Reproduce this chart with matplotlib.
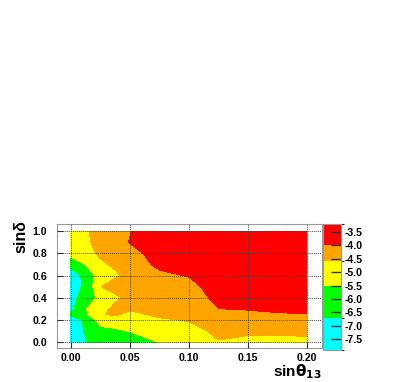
import matplotlib
matplotlib.use("Agg")
import matplotlib.pyplot as plt
from matplotlib.colors import ListedColormap, BoundaryNorm

plt.rcParams['font.family'] = ['Liberation Sans', 'DejaVu Sans']
plt.rcParams['font.weight'] = 'bold'

# grid of sin(theta13) and sin(delta) values
sin_theta13 = [0.0, 0.0125, 0.025, 0.0375, 0.05, 0.075, 0.1, 0.125, 0.15, 0.175, 0.2]
sin_delta = [0.0, 0.1, 0.2, 0.25, 0.3, 0.4, 0.5, 0.6, 0.7, 0.8, 0.9, 1.0]

# log10 values, one row per sin_delta value
z_rows = [
    [-7.5, -6.8, -5.9, -6.0, -6.4, -5.45, -5.1, -4.64, -4.75, -4.75, -4.72],   # 0.0
    [-7.3, -6.6, -5.85, -5.7, -5.45, -5.1, -4.85, -4.45, -4.5, -4.5, -4.5],    # 0.1
    [-7.2, -6.55, -5.0, -4.9, -5.0, -4.7, -4.55, -4.3, -4.25, -4.2, -4.2],     # 0.2
    [-6.5, -5.6, -4.65, -4.5, -4.8, -4.45, -4.45, -4.2, -4.15, -4.05, -4.02],  # 0.25
    [-7.0, -5.55, -4.9, -4.4, -4.5, -4.35, -4.4, -4.01, -3.96, -3.9, -3.85],   # 0.3
    [-7.4, -5.8, -5.35, -4.75, -4.4, -4.3, -4.3, -3.85, -3.7, -3.6, -3.55],    # 0.4
    [-7.6, -6.3, -4.62, -4.3, -4.2, -4.2, -4.2, -3.7, -3.55, -3.45, -3.4],     # 0.5
    [-7.75, -6.2, -5.0, -4.7, -4.4, -4.1, -3.97, -3.55, -3.45, -3.35, -3.3],   # 0.6
    [-6.0, -5.48, -4.7, -4.5, -4.25, -3.9, -3.7, -3.45, -3.4, -3.3, -3.3],     # 0.7
    [-5.2, -4.8, -4.5, -4.3, -4.12, -3.85, -3.55, -3.4, -3.35, -3.3, -3.25],   # 0.8
    [-5.0, -4.7, -4.4, -4.2, -3.98, -3.65, -3.45, -3.35, -3.3, -3.25, -3.25],  # 0.9
    [-4.9, -4.7, -4.3, -4.15, -4.02, -3.6, -3.4, -3.3, -3.3, -3.25, -3.25],    # 1.0
]

levels = [-7.9, -6.7, -5.5, -4.6, -4.0, -3.2]
band_colors = ['#00FFFF', '#00FF00', '#FFFF00', '#FFA500', '#FF0000']
cbar_ticks = [-7.5, -7.0, -6.5, -6.0, -5.5, -5.0, -4.5, -4.0, -3.5]
x_ticks = [0.0, 0.05, 0.10, 0.15, 0.20]
y_ticks = [0.0, 0.2, 0.4, 0.6, 0.8, 1.0]

fig = plt.figure(figsize=(4.09, 3.82), dpi=100)
ax = fig.add_axes([0.1386, 0.0882, 0.648, 0.3254])
cmap = ListedColormap(band_colors)
norm = BoundaryNorm(levels, cmap.N)
cs = ax.contourf(sin_theta13, sin_delta, z_rows, levels=levels, cmap=cmap, norm=norm)

ax.set_xlim(-0.0121, 0.2127)
ax.set_ylim(-0.054, 1.063)
ax.set_xticks(x_ticks)
ax.set_xticklabels([f"{v:.2f}" for v in x_ticks])
ax.set_yticks(y_ticks)
ax.set_yticklabels([f"{v:.1f}" for v in y_ticks])
ax.set_axisbelow(False)
ax.grid(True, color='#444444', linestyle=(0, (1, 1)), linewidth=0.7)
ax.tick_params(direction='in', length=4.5, width=0.8, color='#333333',
               labelsize=7.6)
ax.tick_params(axis='x', pad=3.5)
ax.tick_params(axis='y', pad=7)
for sp in ax.spines.values():
    sp.set_color('#999999')
    sp.set_linewidth(0.8)

fig.text(0.786, 0.014, r'sin$\mathbf{\theta}_{\mathbf{13}}$', ha='right', va='baseline',
         fontsize=11, fontweight='bold')
fig.text(0.052, 0.425, 'sinδ', ha='center', va='top', rotation=90,
         fontsize=11.5, fontweight='bold')

cax = fig.add_axes([0.7905, 0.0838, 0.0425, 0.33])
cb = fig.colorbar(cs, cax=cax, spacing='proportional', ticks=cbar_ticks)
cb.ax.tick_params(direction='in', length=7, width=1, color='#333333',
                  labelsize=7.6, pad=3)
cb.ax.set_yticklabels([f"{v:.1f}" for v in cbar_ticks])
cb.outline.set_edgecolor('#999999')
cb.outline.set_linewidth(0.8)

fig.savefig('out.png', dpi=100)
